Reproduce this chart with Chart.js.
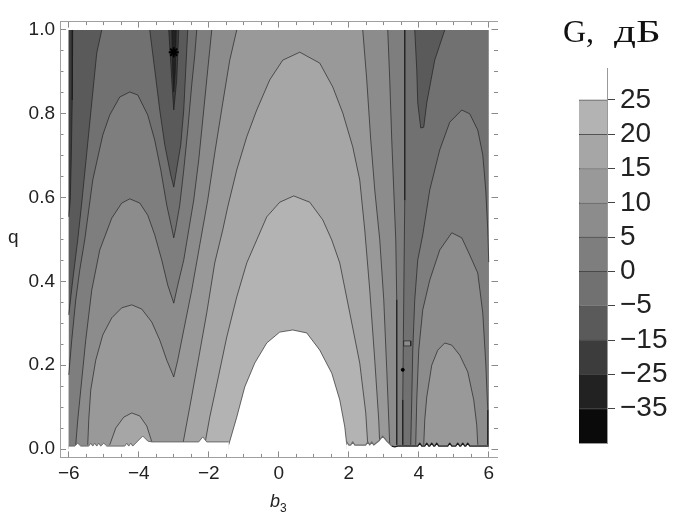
<!DOCTYPE html>
<html lang="ru">
<head>
<meta charset="UTF-8">
<title>G, дБ</title>
<style>
  html, body { margin: 0; padding: 0; background: #fff; }
  #wrap { position: relative; width: 674px; height: 513px; overflow: hidden; }
  #plot { position: absolute; left: 0; top: 0; }
  #bar { position: absolute; left: 570px; top: 55px; }
  .lbl { position: absolute; font-family: 'Liberation Sans', Arial, sans-serif; color: #222; line-height: 1; white-space: nowrap; }
  .serif { font-family: 'Liberation Serif', 'Times New Roman', serif; color: #111; }
</style>
<script src="https://cdn.jsdelivr.net/npm/chart.js"></script>
</head>
<body>
<div id="wrap">
  <canvas id="plot" width="674" height="513"></canvas>
  <canvas id="bar" width="104" height="410"></canvas>
  <div class="lbl" style="left:8px; top:227px; font-size:19px;">q</div>
  <div class="lbl" style="left:270px; top:492px; font-size:18px;"><i>b</i><span style="font-size:12px; position:relative; top:5px;">3</span></div>
  <div class="lbl serif" style="left:563px; top:15px; font-size:32px;">G,</div>
  <div class="lbl serif" style="left:614px; top:15px; font-size:32px; transform:scaleX(1.35); transform-origin:0 0;">дБ</div>
</div>
<script>
// colour of each band, darkest to lightest (colour bar order)
const bandColors = ['#0a0a0a', '#222222', '#3c3c3c', '#5a5a5a', '#717171', '#7e7e7e', '#8c8c8c', '#999999', '#a6a6a6', '#b3b3b3', '#ffffff'];
const barLabels = ['−35', '−25', '−15', '−5', '0', '5', '10', '15', '20', '25'];
const barTicks = [1, 2, 3, 4, 5, 6, 7, 8, 9, 10];

// axis ticks
const xMajor = [-6, -4, -2, 0, 2, 4, 6];
const xMinor = [-6, -5.5, -5, -4.5, -4, -3.5, -3, -2.5, -2, -1.5, -1, -0.5, 0, 0.5, 1, 1.5, 2, 2.5, 3, 3.5, 4, 4.5, 5, 5.5, 6];
const yMajor = [0, 0.2, 0.4, 0.6, 0.8, 1.0];
const yMinor = [0, 0.05, 0.1, 0.15, 0.2, 0.25, 0.3, 0.35, 0.4, 0.45, 0.5, 0.55, 0.6, 0.65, 0.7, 0.75, 0.8, 0.85, 0.9, 0.95, 1.0];

// contour lines, [b3, q]
const lvlm15Left = [[-5.886, 1.0], [-5.9, 0.833], [-5.929, 0.690], [-5.957, 0.594], [-6.0, 0.554]];
const spike15 = [[-3.143, 1.0], [-3.057, 0.881], [-3.0, 0.809], [-2.914, 0.881], [-2.857, 1.0]];
const spike25 = [[-3.057, 1.0], [-3.029, 0.9], [-3.0, 0.852], [-2.957, 0.9], [-2.929, 1.0]];

const lvlm5Left = [[-5.057, 1.0], [-5.2, 0.945], [-5.343, 0.826], [-5.486, 0.706], [-5.629, 0.587], [-5.743, 0.499], [-5.886, 0.403], [-6.0, 0.320]];
const lvlm5Mid = [[-3.686, 1.0], [-3.543, 0.905], [-3.4, 0.809], [-3.257, 0.726], [-3.086, 0.654], [-3.0, 0.625], [-2.943, 0.654], [-2.8, 0.726], [-2.714, 0.809], [-2.657, 0.905], [-2.6, 1.0]];
const lvlm5Right = [[3.886, 1.0], [3.943, 0.905], [3.971, 0.826], [4.057, 0.766], [4.143, 0.768], [4.229, 0.826], [4.457, 0.928], [4.743, 1.0]];

const lvl0Left = [[-6.0, 0.177], [-5.914, 0.260], [-5.8, 0.356], [-5.686, 0.427], [-5.543, 0.499], [-5.314, 0.642], [-5.029, 0.749], [-4.829, 0.797], [-4.543, 0.840], [-4.257, 0.852], [-4.029, 0.845], [-3.743, 0.797], [-3.543, 0.737], [-3.371, 0.666], [-3.2, 0.582], [-3.057, 0.527], [-3.0, 0.504], [-2.943, 0.527], [-2.829, 0.582], [-2.714, 0.666], [-2.6, 0.761], [-2.486, 0.869], [-2.4, 0.940], [-2.343, 1.0]];
const lvl0Right = [[3.6, 1.0], [3.6, 0.833], [3.6, 0.594], [3.571, 0.356], [3.543, 0.117], [3.543, 0.01]];
const dome0 = [[3.771, 0.01], [3.8, 0.117], [3.829, 0.236], [3.886, 0.356], [3.971, 0.451], [4.114, 0.511], [4.314, 0.618], [4.6, 0.714], [4.886, 0.780], [5.229, 0.809], [5.457, 0.800], [5.686, 0.761], [5.829, 0.702], [5.914, 0.618], [5.971, 0.523], [6.0, 0.446]];

const lvl5Left = [[-5.8, 0.01], [-5.743, 0.069], [-5.657, 0.141], [-5.514, 0.260], [-5.343, 0.379], [-5.114, 0.475], [-4.771, 0.551], [-4.486, 0.587], [-4.257, 0.597], [-3.971, 0.587], [-3.743, 0.558], [-3.543, 0.511], [-3.343, 0.451], [-3.171, 0.391], [-3.0, 0.348], [-2.886, 0.391], [-2.714, 0.451], [-2.571, 0.523], [-2.429, 0.594], [-2.286, 0.690], [-2.143, 0.809], [-2.029, 0.905], [-1.914, 1.0]];
const lvl5Right = [[3.114, 1.0], [3.171, 0.881], [3.229, 0.737], [3.286, 0.618], [3.343, 0.499], [3.371, 0.356], [3.371, 0.189], [3.371, 0.01]];
const dome5 = [[3.914, 0.01], [3.943, 0.117], [4.0, 0.236], [4.114, 0.332], [4.314, 0.403], [4.6, 0.475], [4.943, 0.516], [5.229, 0.504], [5.457, 0.463], [5.686, 0.420], [5.829, 0.325], [5.914, 0.205], [5.971, 0.093], [5.971, 0.01]];

const lvl10Left = [[-5.457, 0.01], [-5.429, 0.069], [-5.371, 0.141], [-5.229, 0.212], [-5.029, 0.272], [-4.771, 0.313], [-4.486, 0.337], [-4.2, 0.344], [-3.914, 0.334], [-3.629, 0.303], [-3.4, 0.260], [-3.2, 0.212], [-3.0, 0.172], [-2.886, 0.212], [-2.714, 0.284], [-2.486, 0.379], [-2.257, 0.487], [-2.029, 0.594], [-1.829, 0.706], [-1.6, 0.826], [-1.4, 0.928], [-1.2, 1.0]];
const lvl10Right = [[2.4, 1.0], [2.514, 0.881], [2.629, 0.737], [2.743, 0.618], [2.886, 0.499], [3.0, 0.356], [3.086, 0.189], [3.143, 0.069], [3.171, 0.01]];
const dome10 = [[4.143, 0.01], [4.171, 0.069], [4.229, 0.124], [4.371, 0.200], [4.543, 0.236], [4.743, 0.253], [4.943, 0.248], [5.171, 0.224], [5.4, 0.184], [5.571, 0.117], [5.657, 0.057], [5.686, 0.01]];

const dome15Small = [[-4.829, 0.01], [-4.657, 0.050], [-4.429, 0.076], [-4.2, 0.086], [-3.971, 0.079], [-3.771, 0.055], [-3.6, 0.01]];
const dome15 = [[-2.743, 0.01], [-2.543, 0.100], [-2.314, 0.205], [-2.057, 0.325], [-1.829, 0.444], [-1.6, 0.523], [-1.457, 0.578], [-1.2, 0.666], [-0.914, 0.745], [-0.629, 0.809], [-0.257, 0.881], [0.114, 0.928], [0.6, 0.947], [1.171, 0.921], [1.543, 0.864], [1.829, 0.802], [2.114, 0.721], [2.314, 0.642], [2.457, 0.523], [2.6, 0.379], [2.743, 0.212], [2.857, 0.069], [2.886, 0.01]];
const dome20 = [[-2.114, 0.01], [-1.971, 0.076], [-1.743, 0.165], [-1.486, 0.267], [-1.2, 0.363], [-0.914, 0.444], [-0.629, 0.499], [-0.343, 0.554], [0.029, 0.589], [0.429, 0.604], [0.886, 0.589], [1.257, 0.547], [1.514, 0.499], [1.743, 0.444], [2.029, 0.325], [2.314, 0.205], [2.486, 0.086], [2.543, 0.01]];
const dome25 = [[-1.429, 0.01], [-1.2, 0.076], [-0.971, 0.148], [-0.686, 0.205], [-0.343, 0.253], [0.029, 0.279], [0.4, 0.284], [0.8, 0.277], [1.171, 0.236], [1.514, 0.181], [1.743, 0.117], [1.886, 0.053], [1.943, 0.01]];

const colBox = [[3.571, 0.258], [3.771, 0.258], [3.771, 0.246], [3.571, 0.246], [3.571, 0.258]];
const spots = [[-3.0, 0.947], [3.543, 0.189]];

// ragged lower edge of the computed area
const stripLeft = [[-6.0, 0.007], [-5.829, 0.007], [-5.743, 0.014], [-5.657, 0.007], [-5.429, 0.007], [-5.371, 0.014], [-5.314, 0.007], [-5.257, 0.014], [-5.2, 0.007], [-5.143, 0.014], [-5.086, 0.007], [-5.0, 0.014], [-4.914, 0.007], [-4.4, 0.007], [-4.343, 0.014], [-4.286, 0.007], [-4.229, 0.014], [-4.171, 0.007], [-4.029, 0.019], [-3.886, 0.031], [-3.743, 0.019], [-3.629, 0.017], [-2.286, 0.017], [-2.171, 0.029], [-2.057, 0.017], [-1.429, 0.017]];
const stripRight = [[1.943, 0.017], [2.0, 0.0095], [2.057, 0.0095], [2.114, 0.017], [2.171, 0.0095], [2.486, 0.0095], [2.543, 0.017], [2.6, 0.0095], [2.657, 0.017], [2.714, 0.0095], [2.857, 0.019], [2.971, 0.031], [3.086, 0.019], [3.229, 0.007], [3.314, 0.005], [3.4, 0.007], [3.971, 0.007], [4.029, 0.014], [4.086, 0.007], [4.171, 0.007], [4.229, 0.014], [4.286, 0.007], [4.314, 0.007], [4.371, 0.014], [4.429, 0.007], [4.457, 0.007], [4.514, 0.014], [4.571, 0.007], [4.829, 0.007], [4.886, 0.014], [4.943, 0.007], [5.057, 0.007], [5.114, 0.014], [5.171, 0.007], [5.2, 0.007], [5.257, 0.014], [5.314, 0.007], [5.343, 0.007], [5.4, 0.014], [5.457, 0.007], [6.0, 0.007]];

const xRange = [-6.25, 6.25];
const yRange = [-0.02, 1.02];

// filled areas, painted bottom to top: [outline, band index]
const fills = [
  [[[-6, 0], [-6, 1], [6, 1], [6, 0]], 4],
  [[[-6, 0], ...lvl0Left, ...lvl0Right, [3.543, 0]], 5],
  [[[3.771, 0], ...dome0, [6, 0]], 5],
  [[[-5.8, 0], ...lvl5Left, ...lvl5Right, [3.371, 0]], 6],
  [[[3.914, 0], ...dome5, [5.971, 0]], 6],
  [[[-5.457, 0], ...lvl10Left, ...lvl10Right, [3.171, 0]], 7],
  [[[4.143, 0], ...dome10, [5.686, 0]], 7],
  [[[-4.829, 0], ...dome15Small, [-3.6, 0]], 8],
  [[[-2.743, 0], ...dome15, [2.886, 0]], 8],
  [[[-2.114, 0], ...dome20, [2.543, 0]], 9],
  [[[-1.429, 0], ...dome25, [1.943, 0]], 10],
  [[[-6, 1], ...lvlm5Left], 3],
  [lvlm5Mid, 3],
  [lvlm5Right, 3],
  [[[-6, 1], ...lvlm15Left], 2],
  [spike15, 2],
  [spike25, 1],
  [colBox, 6]
];
const lines = [lvlm15Left, spike15, spike25, lvlm5Left, lvlm5Mid, lvlm5Right, lvl0Left, lvl0Right, dome0,
  lvl5Left, lvl5Right, dome5, lvl10Left, lvl10Right, dome10, dome15Small, dome15, dome20, dome25, colBox];

const toXY = pts => pts.map(p => ({ x: p[0], y: p[1] }));
const datasets = [];
fills.forEach(f => datasets.push({
  data: toXY(f[0]), fill: 'shape', backgroundColor: bandColors[f[1]], borderWidth: 0
}));
lines.forEach(l => datasets.push({
  data: toXY(l), fill: false, borderColor: 'rgba(25,25,25,0.62)', borderWidth: 1
}));
// white ragged strip along q = 0
datasets.push({ data: toXY([[-6, 0], ...stripLeft, [-1.429, 0]]), fill: 'shape', backgroundColor: '#fff', borderWidth: 0 });
datasets.push({ data: toXY([[1.943, 0], ...stripRight, [6, 0]]), fill: 'shape', backgroundColor: '#fff', borderWidth: 0 });
datasets.push({ data: toXY(stripLeft), fill: false, borderColor: '#6a6a6a', borderWidth: 1 });
datasets.push({
  data: toXY(stripRight), fill: false, borderColor: '#6a6a6a', borderWidth: 1.2,
  segment: { borderColor: c => c.p0.parsed.x > 3.2 ? '#1a1a1a' : undefined }
});
datasets.push({
  data: toXY(spots), showLine: false, pointStyle: ['star', 'circle'], pointRadius: [5, 1.5],
  pointBorderColor: '#000', pointBackgroundColor: '#000', pointBorderWidth: [2, 1]
});
datasets.forEach((d, i) => {
  d.order = -i;
  d.xAxisID = 'x';
  d.yAxisID = 'y';
  d.tension = 0;
  d.borderJoinStyle = 'round';
  if (d.pointRadius === undefined) d.pointRadius = 0;
  d.pointHitRadius = 0;
});

const tickFont = { family: 'Liberation Sans', size: 19 };
const fmtX = v => (v < 0 ? '−' + Math.abs(v) : String(v));
const fmtY = v => Number(v).toFixed(1);

function frameAxis(axis, position, list, major, size) {
  const isX = axis === 'x';
  const labelled = major && (position === 'bottom' || position === 'left');
  return {
    type: 'linear', axis: axis, position: position,
    min: isX ? xRange[0] : yRange[0],
    max: isX ? xRange[1] : yRange[1],
    weight: major ? 1 : 0,
    afterBuildTicks: s => { s.ticks = list.map(v => ({ value: v })); },
    afterFit: s => {
      if (isX) s.height = size; else s.width = size;
      s.paddingLeft = s.paddingRight = s.paddingTop = s.paddingBottom = 0;
    },
    ticks: { display: labelled, autoSkip: false, maxRotation: 0, minRotation: 0, padding: 11,
      font: tickFont, color: '#222', callback: isX ? fmtX : fmtY },
    grid: { drawOnChartArea: false, drawTicks: true, tickLength: major ? -6 : -3.5, tickColor: '#8a8a8a', tickWidth: 1 },
    border: { display: major && position !== 'right', color: '#a0a0a0', width: 1 }
  };
}

new Chart(document.getElementById('plot'), {
  type: 'line',
  data: { datasets: datasets },
  options: {
    responsive: false,
    animation: false,
    events: [],
    layout: { padding: 0 },
    plugins: { legend: { display: false }, tooltip: { enabled: false } },
    scales: {
      x: frameAxis('x', 'bottom', xMajor, true, 55.6),
      y: frameAxis('y', 'left', yMajor, true, 60),
      xMinor: frameAxis('x', 'bottom', xMinor, false, 0),
      yMinor: frameAxis('y', 'left', yMinor, false, 0),
      xTop: frameAxis('x', 'top', xMajor, true, 21.6),
      xTopMinor: frameAxis('x', 'top', xMinor, false, 0),
      yRight: frameAxis('y', 'right', yMajor, true, 176.5),
      yRightMinor: frameAxis('y', 'right', yMinor, false, 0)
    }
  }
});

// colour bar
new Chart(document.getElementById('bar'), {
  type: 'bar',
  data: {
    labels: [''],
    datasets: bandColors.map((c, i) => ({
      data: [1],
      backgroundColor: c,
      borderColor: 'rgba(30,30,30,0.75)',
      borderWidth: i < bandColors.length - 1 ? { top: 1, right: 0, bottom: 0, left: 0 } : 0,
      borderSkipped: false,
      barPercentage: 1,
      categoryPercentage: 1,
      yAxisID: 'y'
    }))
  },
  options: {
    responsive: false,
    animation: false,
    events: [],
    layout: { padding: { left: 9, top: 13, right: 0, bottom: 22 } },
    plugins: { legend: { display: false }, tooltip: { enabled: false } },
    scales: {
      x: { stacked: true, grid: { display: false }, ticks: { display: false },
        border: { display: true, color: '#999' },
        afterFit: s => { s.height = 0; s.paddingLeft = s.paddingRight = 0; } },
      y: { stacked: true, position: 'right', min: 0, max: 10.93,
        afterBuildTicks: s => { s.ticks = barTicks.map(v => ({ value: v })); },
        afterFit: s => { s.width = 67; s.paddingTop = s.paddingBottom = 0; },
        ticks: { padding: 5, font: { family: 'Liberation Sans', size: 28 }, color: '#222',
          callback: (v, i) => barLabels[i] },
        grid: { drawOnChartArea: false, tickLength: 8, tickColor: '#444' },
        border: { display: true, color: '#999' } },
      yl: { axis: 'y', position: 'left', ticks: { display: false }, grid: { display: false },
        border: { display: true, color: '#999' },
        afterFit: s => { s.width = 0; s.paddingTop = s.paddingBottom = 0; } }
    }
  }
});
</script>
</body>
</html>
